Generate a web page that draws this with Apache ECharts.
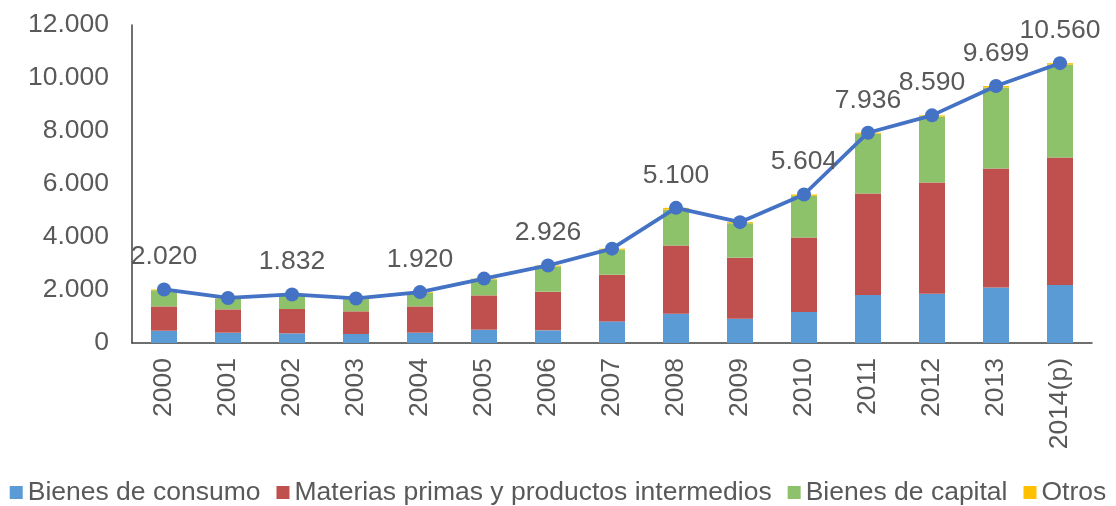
<!DOCTYPE html>
<html>
<head>
<meta charset="utf-8">
<script src="https://cdn.jsdelivr.net/npm/echarts@6/dist/echarts.min.js"></script>
<style>
html,body{margin:0;padding:0;background:#fff;}
#c{width:1116px;height:506px;}
</style>
</head>
<body>
<div id="c"></div>
<script>
var categories = ['2000','2001','2002','2003','2004','2005','2006','2007','2008','2009','2010','2011','2012','2013','2014(p)'];
var consumo   = [464, 389, 364, 340, 389, 502, 477, 815, 1106, 917, 1170, 1811, 1860, 2098, 2189];
var materias  = [917, 879, 919, 855, 992, 1294, 1459, 1762, 2577, 2302, 2815, 3834, 4200, 4491, 4815];
var capital   = [609, 407, 524, 460, 514, 604, 955, 943, 1357, 1301, 1569, 2251, 2485, 3055, 3496];
var otros     = [30, 25, 25, 25, 25, 30, 35, 40, 60, 40, 50, 40, 45, 55, 60];
var total     = [2020, 1700, 1832, 1680, 1920, 2430, 2926, 3560, 5100, 4560, 5604, 7936, 8590, 9699, 10560];
var labeled   = ['2000','2002','2004','2006','2008','2010','2011','2012','2013','2014(p)'];
var yTicks    = [0, 2000, 4000, 6000, 8000, 10000, 12000];

function fmt(v){
  return String(v).replace(/\B(?=(\d{3})+(?!\d))/g, '.');
}

var FONT = '"Liberation Sans", Arial, sans-serif';
var TXT = '#595959';
var FS = 26.5;

var lineData = total.map(function(v, i){
  return { value: v, label: { show: labeled.indexOf(categories[i]) >= 0 } };
});

function barSeries(name, data, color){
  return {
    name: name, type: 'bar', stack: 'a', data: data, barWidth: 26,
    itemStyle: { color: color }, z: 2
  };
}

var chart = echarts.init(document.getElementById('c'), null, { renderer: 'canvas' });
chart.setOption({
  animation: false,
  textStyle: { fontFamily: FONT },
  grid: { left: 132, right: 24, top: 25, bottom: 163, containLabel: false },
  legend: {
    data: ['Bienes de consumo', 'Materias primas y productos intermedios', 'Bienes de capital', 'Otros'],
    left: 'center', top: 474, padding: [5, 0],
    itemWidth: 13, itemHeight: 13, itemGap: 16,
    icon: 'rect',
    textStyle: { fontSize: 26.5, color: TXT, fontFamily: FONT }
  },
  xAxis: {
    type: 'category', data: categories,
    axisLine: { show: true, lineStyle: { color: '#404040', width: 1.5 } },
    axisTick: { show: false },
    axisLabel: { rotate: 90, margin: 15, fontSize: FS, color: TXT, fontFamily: FONT, interval: 0 }
  },
  yAxis: {
    type: 'value', min: yTicks[0], max: yTicks[yTicks.length - 1], interval: yTicks[1] - yTicks[0],
    splitLine: { show: false },
    axisLine: { show: true, lineStyle: { color: '#404040', width: 1.5 } },
    axisTick: { show: false },
    axisLabel: { margin: 23, fontSize: FS, color: TXT, fontFamily: FONT, formatter: function(v){ return fmt(v); } }
  },
  series: [
    barSeries('Bienes de consumo', consumo, '#5B9BD5'),
    barSeries('Materias primas y productos intermedios', materias, '#C0504D'),
    barSeries('Bienes de capital', capital, '#8DC16A'),
    barSeries('Otros', otros, '#FFC000'),
    {
      name: 'Total', type: 'line', data: lineData, z: 5,
      symbol: 'circle', symbolSize: 14,
      lineStyle: { color: '#4472C4', width: 3.75 },
      itemStyle: { color: '#4472C4' },
      label: {
        position: 'top', distance: 12, fontSize: FS, color: TXT, fontFamily: FONT,
        formatter: function(p){ return fmt(p.value); }
      }
    }
  ]
});
</script>
</body>
</html>
